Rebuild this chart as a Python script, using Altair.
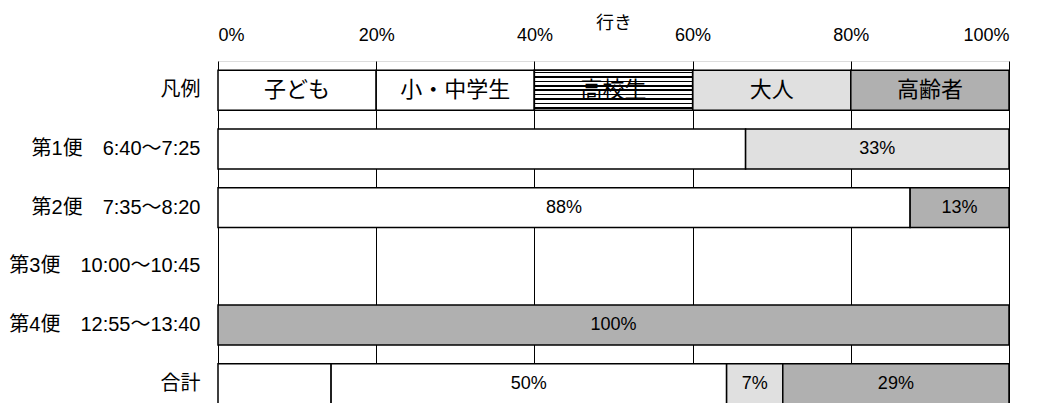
import altair as alt
import pandas as pd

CJK = "Noto Sans CJK JP"
LAT = "Liberation Sans, Noto Sans CJK JP"

# ---- data ----
rows = ["凡例", "第1便\u30006:40～7:25", "第2便\u30007:35～8:20",
        "第3便\u300010:00～10:45", "第4便\u300012:55～13:40", "合計"]
groups = ["子ども", "小・中学生", "高校生", "大人", "高齢者"]
group_fills = ["#ffffff", "#ffffff", "#ffffff", "#e0e0e0", "#b0b0b0"]

seg_row = [0, 0, 0, 0, 0,
           1, 1,
           2, 2,
           4,
           5, 5, 5, 5]
seg_group = ["子ども", "小・中学生", "高校生", "大人", "高齢者",
             "子ども", "大人",
             "小・中学生", "高齢者",
             "高齢者",
             "子ども", "小・中学生", "大人", "高齢者"]
seg_value = [20, 20, 20, 20, 20,
             66.7, 33.3,
             87.5, 12.5,
             100,
             14.3, 50.0, 7.1, 28.6]
seg_label = ["子ども", "小・中学生", "高校生", "大人", "高齢者",
             "", "33%",
             "88%", "13%",
             "100%",
             "", "50%", "7%", "29%"]

df = pd.DataFrame({
    "row": [rows[i] for i in seg_row],
    "group": seg_group,
    "order": [groups.index(g) for g in seg_group],
    "value": seg_value,
    "label": seg_label,
    "is_legend": [i == 0 for i in seg_row],
})

# horizontal stripe fill for 高校生
N = 9
stops = []
for i in range(N):
    s = (i + 0.33) / N
    e = s + 0.34 / N
    stops += [alt.GradientStop(color="#ffffff", offset=s),
              alt.GradientStop(color="#000000", offset=s),
              alt.GradientStop(color="#000000", offset=e),
              alt.GradientStop(color="#ffffff", offset=e)]
stripes = alt.LinearGradient(gradient="linear", stops=stops, x1=0, x2=0, y1=0, y2=1)

yscale = alt.Scale(domain=rows, range=[0, 352], paddingInner=0.32, paddingOuter=0.157)
yenc = alt.Y("row:N", sort=rows, scale=yscale,
             axis=alt.Axis(title=None, ticks=False, domain=False, labelPadding=18,
                           labelFontSize=20, labelColor="black", labelFont=LAT,
                           labelLimit=400))
xscale = alt.Scale(domain=[0, 100], nice=False)

base = alt.Chart(df).transform_stack(
    stack="value", groupby=["row"], as_=["x0", "x1"],
    sort=[alt.SortField("order", order="ascending")]
).transform_calculate(xm="(datum.x0 + datum.x1) / 2")

bars = base.mark_bar(stroke="black", strokeWidth=1.5).encode(
    y=yenc,
    x=alt.X("x0:Q", scale=xscale,
            axis=alt.Axis(orient="top", values=[0, 20, 40, 60, 80, 100],
                          labelExpr="datum.value + '%'", ticks=False, domain=False,
                          grid=True, gridColor="black", gridWidth=1, gridOpacity=1,
                          labelPadding=17, labelFontSize=18, labelColor="black",
                          labelFont=LAT, title="行き", titleFontSize=18,
                          titleFontWeight="normal", titleFont=CJK,
                          titleColor="black", titleY=-38, titleBaseline="middle")),
    x2="x1:Q",
    fill=alt.Fill("group:N", scale=alt.Scale(domain=groups, range=group_fills),
                  legend=None),
)

striped = base.transform_filter(alt.datum.group == "高校生").mark_bar(
    fill=stripes, stroke="black", strokeWidth=1.5
).encode(y=alt.Y("row:N", sort=rows), x="x0:Q", x2="x1:Q")

legend_texts = base.transform_filter(alt.datum.is_legend).mark_text(
    font=CJK, color="black", baseline="middle", fontSize=22
).encode(y=alt.Y("row:N", sort=rows), x=alt.X("xm:Q"), text="label:N")

value_texts = base.transform_filter(~alt.datum.is_legend).mark_text(
    font=LAT, color="black", baseline="middle", fontSize=18
).encode(y=alt.Y("row:N", sort=rows), x=alt.X("xm:Q"), text="label:N")

chart = alt.layer(bars, striped, legend_texts, value_texts).properties(
    width=791, height=342,
    autosize=alt.AutoSizeParams(type="none"),
    padding={"left": 210, "top": 53, "right": 22, "bottom": 0},
).configure_view(stroke="black", strokeWidth=1.5).configure(background="white")

chart.save("out.html", embed_options={"renderer": "svg", "actions": False})
